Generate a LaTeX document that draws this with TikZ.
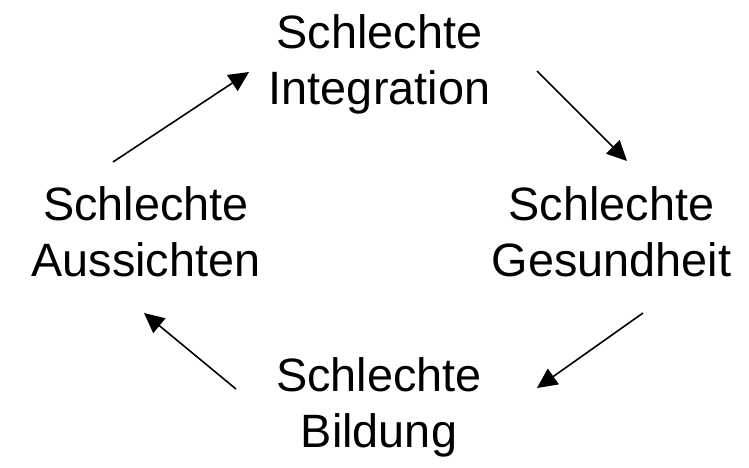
\documentclass[tikz,border=0pt]{standalone}
\usepackage{fontspec}
\setmainfont{Liberation Sans}
\usetikzlibrary{arrows.meta}
\newcommand\lnstrut{\rule[-12pt]{0pt}{36pt}}
\begin{document}
\begin{tikzpicture}[x=1pt,y=-1pt,
  lbl/.style={align=center,inner sep=0pt,font=\fontsize{46.8pt}{56pt}\selectfont},
  arr/.style={line width=1.6pt,-{Triangle[length=20pt,width=19pt]}}]
\useasboundingbox (0,0) rectangle (749,467);
\node[lbl] (top) at (379.5,65.5) {\lnstrut Schlechte\\\lnstrut Integration};
\node[lbl] (left) at (146,237.5) {\lnstrut Schlechte\\\lnstrut Aussichten};
\node[lbl] (right) at (611.5,237.5) {\lnstrut Schlechte\\\lnstrut Gesundheit};
\node[lbl] (bot) at (379,409) {\lnstrut Schlechte\\\lnstrut Bildung};
\coordinate (a1s) at (113,162); \coordinate (a1e) at (249,72);
\coordinate (a2s) at (537,71);  \coordinate (a2e) at (627,161);
\coordinate (a3s) at (643,313); \coordinate (a3e) at (537,388);
\coordinate (a4s) at (236,389); \coordinate (a4e) at (144,313);
\draw[arr] (a1s) -- (a1e);
\draw[arr] (a2s) -- (a2e);
\draw[arr] (a3s) -- (a3e);
\draw[arr] (a4s) -- (a4e);
\end{tikzpicture}
\end{document}
